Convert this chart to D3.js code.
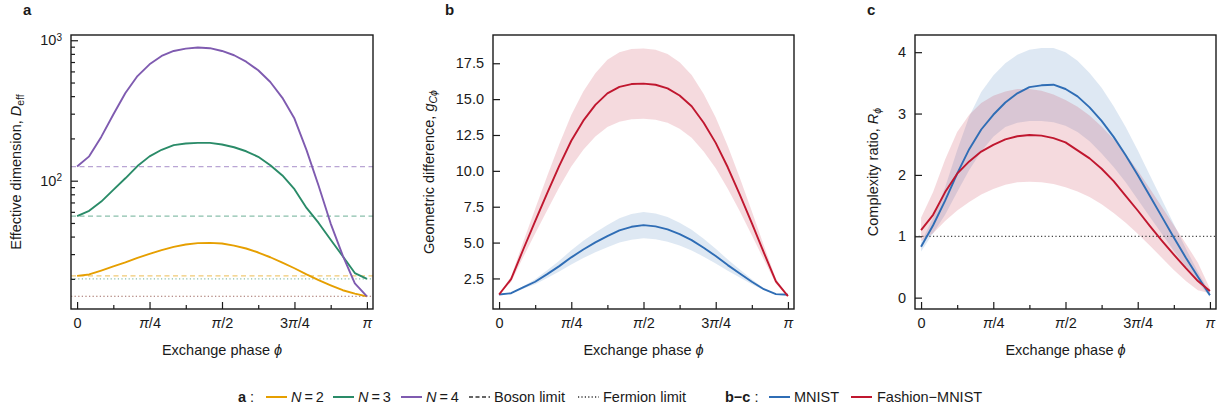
<!DOCTYPE html>
<html>
<head>
<meta charset="utf-8">
<script src="https://cdn.jsdelivr.net/npm/d3@7"></script>
<style>
    body { margin: 0; background: #fff; }
    svg text { font-family: "Liberation Sans", Arial, Helvetica, sans-serif; fill: #1a1a1a; font-size: 14.5px; }
</style>
</head>
<body>
<div id="chart"></div>
<script>
// exchange phase, in units of pi
const phase = [0/24, 1/24, 2/24, 3/24, 4/24, 5/24, 6/24, 7/24, 8/24, 9/24, 10/24, 11/24, 12/24,
               13/24, 14/24, 15/24, 16/24, 17/24, 18/24, 19/24, 20/24, 21/24, 22/24, 23/24, 24/24];
const phaseTicks = [0, 0.25, 0.5, 0.75, 1];
const phaseTickLabels = ["0", "π/4", "π/2", "3π/4", "π"];
const phaseMinorTicks = [0.125, 0.375, 0.625, 0.875];

// panel a : effective dimension
const deffN2 = [21, 21.5, 22.9, 24.5, 26.2, 28.2, 30.1, 32, 33.8, 35.1, 35.9, 36.1, 35.7,
                34.5, 32.9, 30.8, 28.5, 26.1, 23.8, 21.5, 19.6, 18, 16.6, 15.7, 15];
const deffN3 = [56, 61, 71, 86, 104, 127, 149, 166, 179, 184, 186, 186, 181,
                173, 162, 148, 129, 109, 87, 64, 50, 38, 29, 22, 20];
const deffN4 = [126, 149, 205, 296, 421, 556, 674, 773, 839, 872, 887, 878, 839,
                782, 704, 611, 504, 389, 277, 165, 92, 49.5, 29.3, 18.6, 15];
const bosonLimit = [21, 56, 126];
const fermionLimit = [15, 20, 15];
const particleLabels = ["N=2", "N=3", "N=4"];

// panel b : geometric difference
const gMnist = [1.38, 1.47, 1.87, 2.27, 2.80, 3.36, 3.97, 4.52, 5.01, 5.45, 5.85, 6.10, 6.22,
                6.13, 5.92, 5.59, 5.17, 4.64, 4.06, 3.43, 2.85, 2.27, 1.75, 1.41, 1.36];
const gMnistHi = [1.39, 1.49, 1.96, 2.44, 3.07, 3.74, 4.46, 5.12, 5.70, 6.22, 6.70, 7.00, 7.14,
                  7.03, 6.78, 6.39, 5.89, 5.26, 4.57, 3.82, 3.13, 2.44, 1.82, 1.42, 1.37];
const gMnistLo = [1.37, 1.45, 1.78, 2.10, 2.53, 2.98, 3.48, 3.92, 4.32, 4.68, 5.00, 5.20, 5.30,
                  5.23, 5.06, 4.79, 4.45, 4.02, 3.55, 3.04, 2.57, 2.10, 1.68, 1.40, 1.35];
const gFashion = [1.38, 2.45, 4.5, 6.5, 8.45, 10.35, 12.1, 13.5, 14.6, 15.4, 15.85, 16.05, 16.08,
                  16.0, 15.75, 15.25, 14.5, 13.35, 11.95, 10.25, 8.35, 6.35, 4.3, 2.3, 1.27];
const gFashionHi = [1.40, 2.64, 5.03, 7.36, 9.64, 11.85, 13.89, 15.53, 16.81, 17.74, 18.27, 18.50, 18.53,
                    18.44, 18.15, 17.57, 16.69, 15.35, 13.72, 11.74, 9.52, 7.19, 4.80, 2.47, 1.28];
const gFashionLo = [1.36, 2.26, 3.97, 5.64, 7.26, 8.85, 10.31, 11.47, 12.39, 13.06, 13.43, 13.60, 13.63,
                    13.56, 13.35, 12.93, 12.31, 11.35, 10.18, 8.76, 7.18, 5.51, 3.80, 2.13, 1.26];

// panel c : complexity ratio
const rMnist = [0.83, 1.18, 1.58, 2.02, 2.42, 2.74, 2.98, 3.18, 3.33, 3.43, 3.46, 3.47, 3.40,
                3.28, 3.10, 2.88, 2.62, 2.32, 2.00, 1.66, 1.32, 0.98, 0.65, 0.34, 0.04];
const rMnistHi = [0.90, 1.30, 1.80, 2.40, 2.95, 3.35, 3.62, 3.82, 3.96, 4.04, 4.07, 4.07, 4.00,
                  3.86, 3.66, 3.42, 3.12, 2.78, 2.40, 2.00, 1.60, 1.20, 0.80, 0.42, 0.08];
const rMnistLo = [0.75, 1.05, 1.35, 1.72, 2.08, 2.38, 2.62, 2.78, 2.85, 2.88, 2.88, 2.86, 2.80,
                  2.70, 2.55, 2.35, 2.13, 1.88, 1.60, 1.32, 1.04, 0.76, 0.50, 0.26, 0.01];
const rFashion = [1.10, 1.35, 1.72, 2.02, 2.22, 2.38, 2.49, 2.58, 2.63, 2.65, 2.64, 2.60, 2.53,
                  2.40, 2.27, 2.10, 1.90, 1.66, 1.42, 1.17, 0.93, 0.70, 0.48, 0.27, 0.11];
const rFashionHi = [1.30, 1.72, 2.25, 2.70, 2.98, 3.17, 3.29, 3.36, 3.40, 3.40, 3.37, 3.31, 3.22,
                    3.11, 2.97, 2.79, 2.58, 2.34, 2.07, 1.78, 1.48, 1.18, 0.88, 0.57, 0.15];
const rFashionLo = [0.92, 1.05, 1.25, 1.42, 1.56, 1.68, 1.77, 1.84, 1.88, 1.89, 1.88, 1.85, 1.80,
                    1.73, 1.64, 1.52, 1.38, 1.22, 1.04, 0.85, 0.65, 0.45, 0.27, 0.12, 0.07];
const rReference = 1;

const nColors = ["#E69F00", "#2A8B68", "#7F5BB0"];
const blue = "#2F6DB5", red = "#C0172F";
const ink = "#1a1a1a";

const width = 1225, height = 410;
const plotTop = 35, plotBottom = 309;

const svg = d3.select("#chart").append("svg")
    .attr("width", width)
    .attr("height", height);

// write a label with an italic pi into a text node
function piLabel(sel, label) {
    sel.text(null);
    label.split(/(π)/).forEach(function(part) {
        if (part === "") return;
        const t = sel.append("tspan").text(part);
        if (part === "π") t.attr("font-style", "italic");
    });
}

function panel(left, right, y, letter, opts) {
    const x = d3.scaleLinear().domain([-0.021, 1.021]).range([left, right]);
    const g = svg.append("g");

    // minor x ticks
    g.append("g")
        .attr("transform", `translate(0,${plotBottom})`)
        .call(d3.axisBottom(x).tickValues(phaseMinorTicks).tickSizeInner(-4).tickSizeOuter(0).tickFormat(""))
        .call(a => a.select(".domain").remove());

    // major x ticks
    g.append("g")
        .attr("transform", `translate(0,${plotBottom})`)
        .call(d3.axisBottom(x).tickValues(phaseTicks).tickSizeInner(-7).tickSizeOuter(0).tickPadding(9)
            .tickFormat((d, i) => phaseTickLabels[i]))
        .call(a => a.select(".domain").remove())
        .call(a => a.selectAll("text").each(function(d, i) { piLabel(d3.select(this), phaseTickLabels[i]); }));

    if (opts.minorY) {
        g.append("g")
            .attr("transform", `translate(${left},0)`)
            .call(d3.axisLeft(y).tickValues(opts.minorY).tickSizeInner(-4).tickSizeOuter(0).tickFormat(""))
            .call(a => a.select(".domain").remove());
    }

    const yAxis = g.append("g")
        .attr("transform", `translate(${left},0)`)
        .call(d3.axisLeft(y).tickValues(opts.yTicks).tickSizeInner(-7).tickSizeOuter(0).tickPadding(9)
            .tickFormat(opts.yFormat))
        .call(a => a.select(".domain").remove());
    if (opts.yTickText) yAxis.selectAll("text").each(opts.yTickText);

    g.selectAll(".tick line").attr("stroke", ink).attr("stroke-width", 1.2);
    g.selectAll(".tick text").attr("fill", ink).style("font-size", "14.5px")
        .style("font-family", '"Liberation Sans", Arial, sans-serif');

    // axis titles
    const xt = g.append("text")
        .attr("x", (left + right) / 2)
        .attr("y", 355)
        .attr("text-anchor", "middle");
    xt.append("tspan").text("Exchange phase ");
    xt.append("tspan").attr("font-style", "italic").text("\u03D5");

    const yt = g.append("text")
        .attr("transform", `translate(${opts.yTitleX},${(plotTop + plotBottom) / 2}) rotate(-90)`)
        .attr("text-anchor", "middle")
        .attr("dy", "0.35em");
    opts.yTitle(yt);

    g.append("text")
        .attr("x", opts.letterX)
        .attr("y", 15)
        .attr("font-weight", "bold")
        .style("font-size", "15px")
        .text(letter);

    return {g: g, x: x, y: y, left: left, right: right};
}

function drawLine(p, values, color) {
    const line = d3.line()
        .x((d, i) => p.x(phase[i]))
        .y(d => p.y(d));
    p.g.append("path")
        .datum(values)
        .attr("fill", "none")
        .attr("stroke", color)
        .attr("stroke-width", 1.9)
        .attr("stroke-linejoin", "round")
        .attr("d", line);
}

function drawBand(p, lo, hi, color) {
    const area = d3.area()
        .x((d, i) => p.x(phase[i]))
        .y0((d, i) => p.y(lo[i]))
        .y1((d, i) => p.y(hi[i]));
    p.g.append("path")
        .datum(lo)
        .attr("fill", color)
        .attr("fill-opacity", 0.16)
        .attr("stroke", "none")
        .attr("d", area);
}

function drawLevel(p, value, color, dash, opacity) {
    p.g.append("line")
        .attr("x1", p.left).attr("x2", p.right)
        .attr("y1", p.y(value)).attr("y2", p.y(value))
        .attr("stroke", color)
        .attr("stroke-opacity", opacity)
        .attr("stroke-width", 1.2)
        .attr("stroke-dasharray", dash);
}

function drawFrame(p) {
    p.g.append("rect")
        .attr("x", p.left).attr("y", plotTop)
        .attr("width", p.right - p.left).attr("height", plotBottom - plotTop)
        .attr("fill", "none")
        .attr("stroke", ink)
        .attr("stroke-width", 1.4);
}

/* ---- panel a ---- */
const yA = d3.scaleLog().domain([12.2, 1090]).range([plotBottom, plotTop]);
const pa = panel(71, 373, yA, "a", {
    yTicks: [100, 1000],
    minorY: [20, 30, 40, 50, 60, 70, 80, 90, 200, 300, 400, 500, 600, 700, 800, 900],
    yFormat: d => "",
    yTickText: function(d) {
        const t = d3.select(this);
        t.append("tspan").text("10");
        t.append("tspan").attr("dy", "-0.45em").style("font-size", "10px").text(Math.round(Math.log10(d)));
    },
    yTitleX: 15.5,
    yTitle: function(t) {
        t.append("tspan").text("Effective dimension, ");
        t.append("tspan").attr("font-style", "italic").text("D");
        t.append("tspan").attr("dy", "0.3em").style("font-size", "10.5px").text("eff");
    },
    letterX: 23
});
fermionLimit.forEach((v, i) => drawLevel(pa, v, nColors[i], "1.2,2.4", 0.55));
bosonLimit.forEach((v, i) => drawLevel(pa, v, nColors[i], "5,3.5", 0.55));
[deffN2, deffN3, deffN4].forEach((s, i) => drawLine(pa, s, nColors[i]));
drawFrame(pa);

/* ---- panel b ---- */
const yB = d3.scaleLinear().domain([0.37, 19.47]).range([plotBottom, plotTop]);
const pb = panel(493, 794, yB, "b", {
    yTicks: [2.5, 5, 7.5, 10, 12.5, 15, 17.5],
    yFormat: d3.format(".1f"),
    yTitleX: 429,
    yTitle: function(t) {
        t.append("tspan").text("Geometric difference, ");
        t.append("tspan").attr("font-style", "italic").text("g");
        t.append("tspan").attr("dy", "0.3em").attr("font-style", "italic").style("font-size", "10.5px").text("C\u03D5");
    },
    letterX: 445
});
drawBand(pb, gMnistLo, gMnistHi, blue);
drawBand(pb, gFashionLo, gFashionHi, red);
drawLine(pb, gMnist, blue);
drawLine(pb, gFashion, red);
drawFrame(pb);

/* ---- panel c ---- */
const yC = d3.scaleLinear().domain([-0.185, 4.28]).range([plotBottom, plotTop]);
const pc = panel(915, 1216, yC, "c", {
    yTicks: [0, 1, 2, 3, 4],
    yFormat: d3.format("d"),
    yTitleX: 873,
    yTitle: function(t) {
        t.append("tspan").text("Complexity ratio, ");
        t.append("tspan").attr("font-style", "italic").text("R");
        t.append("tspan").attr("dy", "0.3em").attr("font-style", "italic").style("font-size", "10.5px").text("\u03D5");
    },
    letterX: 867
});
drawBand(pc, rMnistLo, rMnistHi, blue);
drawBand(pc, rFashionLo, rFashionHi, red);
drawLevel(pc, rReference, "#444", "1.2,2.4", 1);
drawLine(pc, rMnist, blue);
drawLine(pc, rFashion, red);
drawFrame(pc);

/* ---- legend ---- */
const legend = svg.append("g").attr("transform", "translate(0,397)");

function legendHead(x, bold) {
    const t = legend.append("text").attr("x", x).attr("dy", "0.35em");
    t.append("tspan").attr("font-weight", "bold").text(bold);
    t.append("tspan").text(" :");
}
function legendSwatch(x, color, dash) {
    legend.append("line")
        .attr("x1", x).attr("x2", x + 21)
        .attr("stroke", color)
        .attr("stroke-width", dash ? 1.3 : 2)
        .attr("stroke-dasharray", dash || null);
}
function legendText(x, build) {
    const t = legend.append("text").attr("x", x).attr("dy", "0.35em");
    build(t);
}

legendHead(238, "a");
[266, 333, 401].forEach((sx, i) => {
    legendSwatch(sx, nColors[i]);
    legendText(sx + 25, t => {
        const parts = particleLabels[i].split("=");
        t.append("tspan").attr("font-style", "italic").text(parts[0]);
        t.append("tspan").text("\u2009=\u2009" + parts[1]);
    });
});
legendSwatch(469, "#333", "4,2.5");
legendText(494, t => t.text("Boson limit"));
legendSwatch(578, "#333", "1.2,2.2");
legendText(603, t => t.text("Fermion limit"));

legendHead(725, "b\u2212c");
legendSwatch(769, blue);
legendText(794, t => t.text("MNIST"));
legendSwatch(851, red);
legendText(877, t => t.text("Fashion\u2212MNIST"));
</script>
</body>
</html>
